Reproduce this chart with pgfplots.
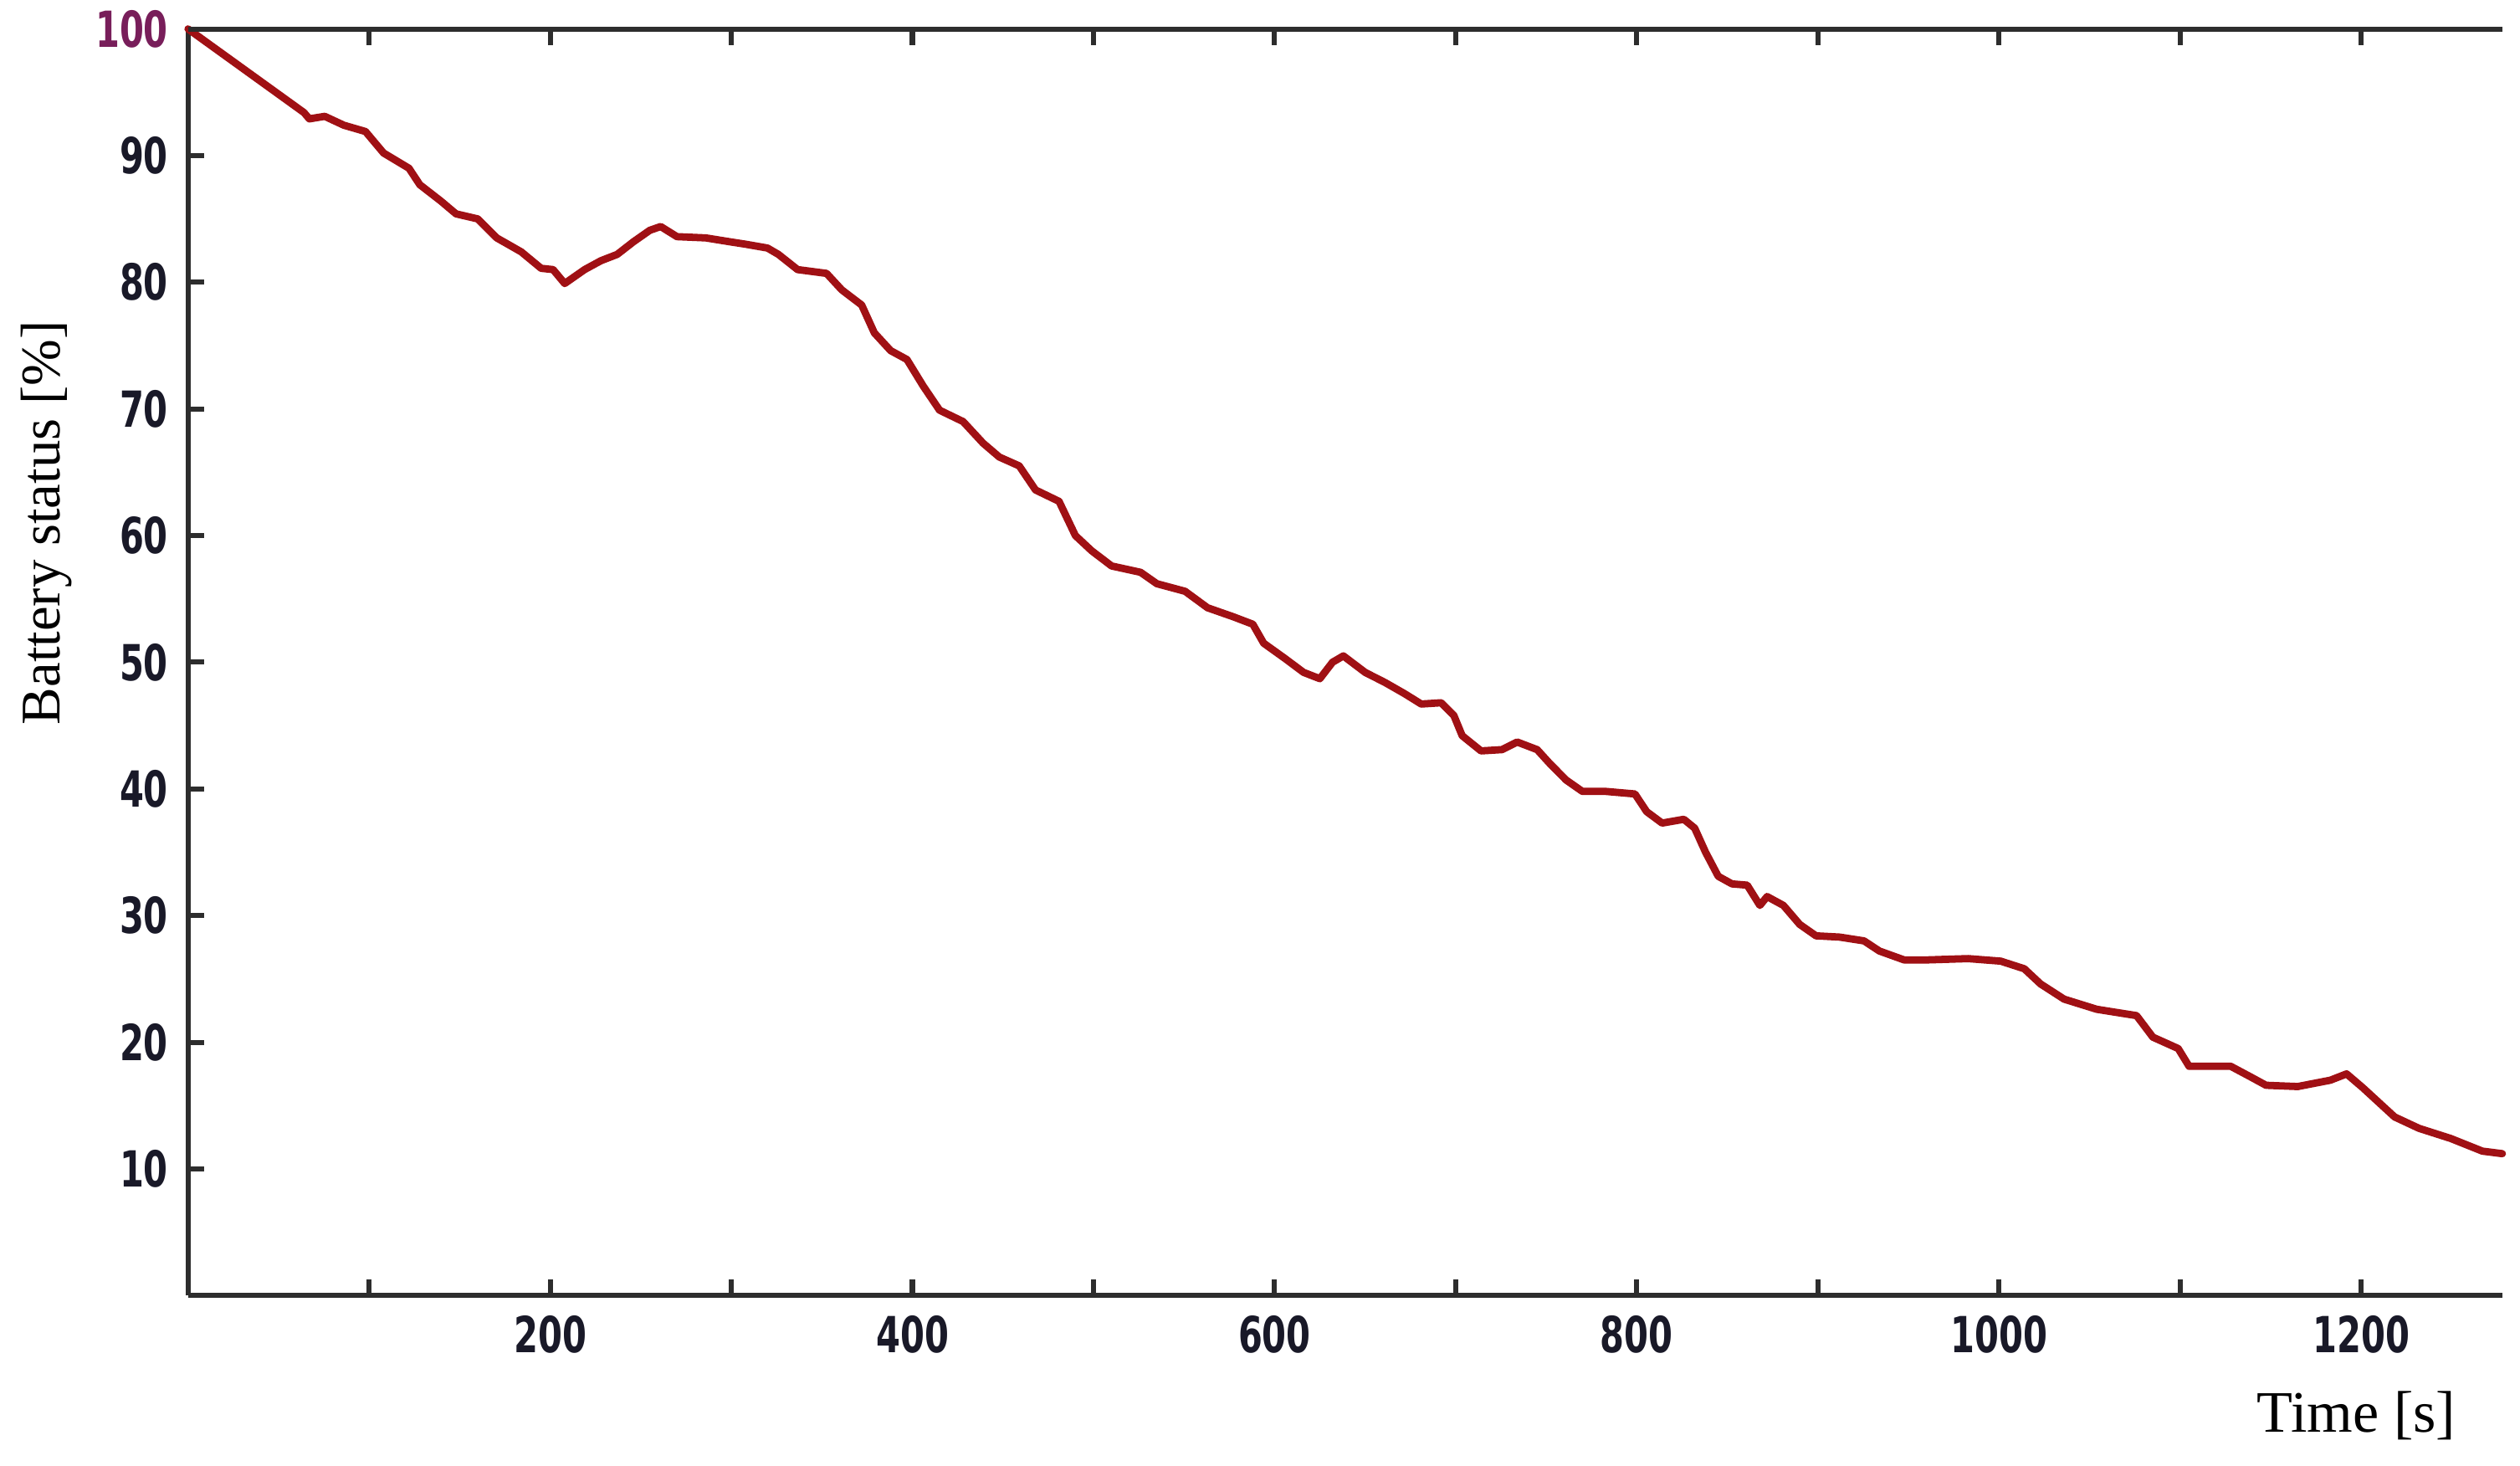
\documentclass[border=0pt]{standalone}
\usepackage{pgfplots}
\pgfplotsset{compat=1.18}
\usepackage{fontspec}
\setmainfont{Liberation Serif}
\newfontfamily\tickfont[FakeStretch=0.7]{DejaVu Sans}
\definecolor{curve}{RGB}{160,16,20}
\definecolor{axcol}{RGB}{45,45,45}
\definecolor{tickcol}{RGB}{25,25,40}
\definecolor{hundred}{RGB}{120,30,90}
\begin{document}
\begin{tikzpicture}
\begin{axis}[
  at={(0,0)}, anchor=south west,
  scale only axis,
  width=14.40cm, height=7.88cm,
  xmin=0, xmax=1278, ymin=0, ymax=100,
  axis x line*=bottom, axis y line*=left,
  axis line style={line width=0.9pt, color=axcol},
  tick style={line width=0.9pt, color=axcol},
  tick align=inside,
  major tick length=0.1cm,
  xtick={100,200,...,1200},
  xticklabels={,200,,400,,600,,800,,1000,,1200},
  ytick={10,20,...,100},
  yticklabels={10,20,30,40,50,60,70,80,90,\textcolor{hundred}{100}},
  /pgf/number format/assume math mode=true,
  ticklabel style={font=\tickfont\bfseries\fontsize{8.8}{10}\selectfont, text=tickcol},
  xlabel={Time [s]},
  ylabel={Battery status [\%]},
  xlabel style={font=\fontsize{10.4}{12}\selectfont, at={(axis description cs:0.937,-0.095)}, anchor=center},
  ylabel style={font=\fontsize{9.9}{12}\selectfont, at={(axis description cs:-0.061,0.61)}, anchor=center},
  clip=false,
]
\addplot[color=curve, line width=1.3pt, line join=round, line cap=round] coordinates {
(0,100) (64,93.4) (67,92.9) (75.5,93.1) (86,92.4) (98,91.9) (108,90.2)
(122,89.0) (128,87.7) (139.7,86.4) (148,85.4) (160,85.0) (170.5,83.5)
(184,82.4) (195,81.1) (201.6,81.0) (208,79.9) (219,81.0) (228,81.7)
(237,82.2) (246,83.2) (255,84.1) (261,84.4) (270,83.6) (286,83.5)
(299,83.2) (308,83.0) (320,82.7) (326,82.2) (336.6,81.0) (352.6,80.7)
(361,79.4) (372,78.2) (379,76.0) (388,74.6) (397,73.9) (406,71.8)
(415,69.9) (428,69.0) (439,67.3) (448,66.2) (459,65.5) (468,63.6)
(481,62.7) (490,60.0) (499,58.8) (510,57.6) (526,57.1) (535,56.2)
(550.6,55.6) (563,54.3) (577,53.6) (588,53.0) (594,51.5) (605.7,50.3)
(616,49.2) (625,48.7) (632,50.0) (638,50.5) (650,49.2) (661,48.4)
(672,47.5) (681,46.7) (692,46.8) (699,45.8) (703.6,44.2) (714,43.0)
(725.6,43.1) (734,43.7) (745,43.1) (752,42.0) (761,40.7) (770,39.8)
(783,39.8) (799,39.6) (805.5,38.2) (814,37.3) (826,37.6) (832,36.9)
(838,35.0) (845,33.1) (852.6,32.5) (861,32.4) (868,30.8) (872,31.5)
(881,30.8) (890,29.3) (899,28.4) (912,28.3) (925.5,28.0) (934,27.2)
(947.6,26.5) (961,26.5) (983,26.6) (1001,26.4) (1014,25.8) (1023,24.6)
(1036,23.4) (1054,22.6) (1076,22.1) (1085,20.4) (1099,19.5) (1105,18.1)
(1114,18.1) (1128,18.1) (1138.5,17.3) (1147.5,16.6) (1165,16.5) (1183,17.0)
(1192,17.5) (1201,16.4) (1218.5,14.1) (1232,13.2) (1249.5,12.4) (1267,11.4)
(1278,11.2)
};
\draw[line width=0.9pt, color=axcol] (rel axis cs:0,1) -- (rel axis cs:1,1);
\pgfplotsinvokeforeach{100,200,...,1200}{
  \draw[line width=0.9pt, color=axcol] (axis cs:#1,100) -- ++(0,-0.1cm);
}
\end{axis}
\pgfresetboundingbox
\useasboundingbox (-1.17,-1.06) rectangle (14.51,8.06);
\end{tikzpicture}
\end{document}
